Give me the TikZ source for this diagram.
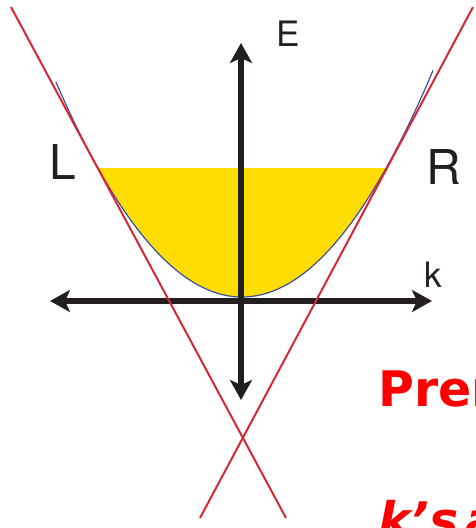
\documentclass[tikz,border=0pt]{standalone}
\usepackage{fontspec}
\setmainfont{TeX Gyre Heros}
\newfontfamily\slidefont{DejaVu Sans}
\usetikzlibrary{arrows.meta}

\tikzset{
    axisline/.style={line width=6pt, draw=axisColour,
        {Stealth[length=20pt,width=22pt,inset=5pt]}-{Stealth[length=20pt,width=22pt,inset=5pt]}},
    tangentline/.style={draw=tangentColour, line width=2pt},
    axislabel/.style={text=axisColour, inner sep=0pt},
    slidetext/.style={text=slideRed, inner sep=0pt, anchor=base west,
        font=\slidefont\bfseries\fontsize{49}{49}\selectfont}
}

\begin{document}
\begin{tikzpicture}[x=1pt, y=-1pt]
    \def\vx{242}
    \def\vy{297}

    \definecolor{axisColour}{RGB}{35,31,32}
    \definecolor{fillColour}{RGB}{255,221,0}
    \definecolor{curveColour}{RGB}{60,80,160}
    \definecolor{tangentColour}{RGB}{214,40,52}
    \definecolor{slideRed}{RGB}{255,0,0}

    \useasboundingbox (0,0) rectangle (475,528);
    \clip (0,0) rectangle (475,528);

    % Filled states below the Fermi level
    \fill[fillColour] plot[domain=98:386, samples=60, smooth]
        (\x, {\vy-0.621*((\x-\vx)/10)^2}) -- cycle;

    % Dispersion curve
    \draw[curveColour, line width=1.2pt] plot[domain=56:433, samples=80, smooth]
        (\x, {\vy-0.621*((\x-\vx)/10)^2});

    % Draw axes
    \coordinate (kLeft) at (50,301);
    \coordinate (kRight) at (432,301);
    \coordinate (eTop) at (241,43);
    \coordinate (eBottom) at (241,400);
    \draw[axisline] (kLeft) -- (kRight);
    \draw[axisline] (eBottom) -- (eTop);

    % Left and right movers
    \coordinate (Ltop) at (11,7);
    \coordinate (Lbot) at (286,518);
    \coordinate (Rtop) at (473,7);
    \coordinate (Rbot) at (200,518);
    \draw[tangentline] (Ltop) -- (Lbot);
    \draw[tangentline] (Rtop) -- (Rbot);

    % Labels
    \node[axislabel, font=\fontsize{35}{35}\selectfont] (labE) at (288,34) {E};
    \node[axislabel, font=\fontsize{35}{35}\selectfont] (labk) at (433,275) {k};
    \node[axislabel, font=\fontsize{48}{48}\selectfont] (labL) at (63,162) {L};
    \node[axislabel, font=\fontsize{48}{48}\selectfont] (labR) at (444,167) {R};

    % Slide text, cut off at the edge
    \node[slidetext] (premText) at (378,406) {Prem};
    \node[slidetext, font=\slidefont\bfseries\itshape\fontsize{49}{49}\selectfont] (ksText) at (378,537) {k’s\kern7pt a};

\end{tikzpicture}
\end{document}
